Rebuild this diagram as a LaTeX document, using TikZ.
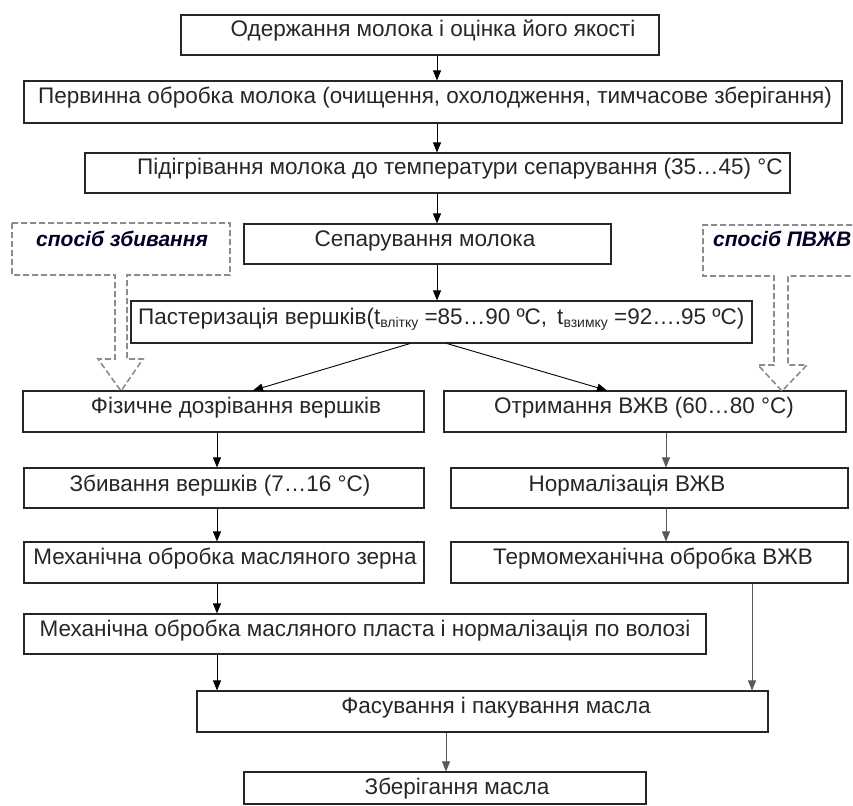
\documentclass[tikz,border=0pt]{standalone}
\usepackage{fontspec}
\setmainfont{Liberation Sans}
\usetikzlibrary{arrows.meta}
\begin{document}
\begin{tikzpicture}[x=1pt,y=-1pt,
  stepbox/.style={draw=black!85,line width=1.1pt,inner sep=0pt},
  txt/.style={inner sep=0pt,anchor=base,font=\fontsize{22.5}{25}\selectfont,text=black!85},
  way/.style={inner sep=0pt,anchor=base west,font=\fontsize{21}{23}\selectfont\bfseries\itshape,text=black!85!blue},
  flow/.style={draw=black,line width=0.9pt,-{Triangle[length=10pt,width=8pt]}},
  thinflow/.style={draw=black!65,line width=0.6pt,-{Triangle[length=10pt,width=8pt]}},
  hollow/.style={draw=black!45,line width=1.6pt,dash pattern=on 6pt off 3pt}
]
\useasboundingbox (0,0) rectangle (853,805);

% process steps: (left,top) to (right,bottom)
\newcommand{\stepat}[5]{\node[stepbox,minimum width=#3-#1,minimum height=#4-#2] (#5) at ({(#1+#3)/2},{(#2+#4)/2}) {};}
\newcommand{\lowsub}[1]{\raisebox{-3pt}{\fontsize{14}{14}\selectfont #1}}
\stepat{181}{15}{659}{55}{b1}
\stepat{24}{81}{842}{123}{b2}
\stepat{85}{153}{790}{193}{b3}
\stepat{244}{224}{611}{264}{b4}
\stepat{131}{301}{752}{343}{b5}
\stepat{23}{391}{424}{432}{b6}
\stepat{444}{391}{846}{432}{b7}
\stepat{24}{468}{424}{508}{b8}
\stepat{451}{468}{848}{508}{b9}
\stepat{24}{542}{424}{583}{b10}
\stepat{451}{542}{848}{583}{b11}
\stepat{24}{614}{706}{654}{b12}
\stepat{197}{691}{768}{732}{b13}
\stepat{244}{772}{646}{804}{b14}

% step texts (baselines)
\node[txt] (t1) at (433,37) {Одержання молока і оцінка його якості};
\node[txt] (t2) at (435,104) {Первинна обробка молока (очищення, охолодження, тимчасове зберігання)};
\node[txt] (t3) at (460,175) {Підігрівання молока до температури сепарування (35…45) °C};
\node[txt] (t4) at (425,246) {Сепарування молока};
\node[txt,anchor=base west] (t5) at (138,324) {Пастеризація вершків(t\lowsub{влітку} =85…90 ºC, \,t\lowsub{взимку} =92….95 ºC)};
\node[txt] (t6) at (236,413) {Фізичне дозрівання вершків};
\node[txt] (t7) at (644,413) {Отримання ВЖВ (60…80 °C)};
\node[txt] (t8) at (220,491) {Збивання вершків (7…16 °C)};
\node[txt] (t9) at (627,491) {Нормалізація ВЖВ};
\node[txt] (t10) at (225,564) {Механічна обробка масляного зерна};
\node[txt] (t11) at (653,564) {Термомеханічна обробка ВЖВ};
\node[txt] (t12) at (365,636) {Механічна обробка масляного пласта і нормалізація по волозі};
\node[txt] (t13) at (496,713) {Фасування і пакування масла};
\node[txt] (t14) at (457,794) {Зберігання масла};

% dashed method boxes with hollow arrows
\begin{scope}
\clip (0,0) rectangle (853,805);
\draw[hollow] (12,223) -- (230,223) -- (230,275) -- (127,275) -- (127,359) -- (143,359)
  -- (121,391) -- (98,359) -- (115,359) -- (115,275) -- (12,275) -- cycle;
\draw[hollow] (870,225) -- (703,225) -- (703,276) -- (774,276) -- (774,365) -- (758,365)
  -- (782,391) -- (807,365) -- (788,365) -- (788,276) -- (870,276);
\end{scope}
\node[way] (w1) at (36,246) {спосіб збивання};
\node[way] (w2) at (713,246) {спосіб ПВЖВ};

% connectors
\draw[flow] (b1.south -| 437,0) -- (b2.north -| 437,0);
\draw[flow] (b2.south -| 437,0) -- (b3.north -| 437,0);
\draw[flow] (b3.south -| 437,0) -- (b4.north -| 437,0);
\draw[flow] (b4.south -| 437,0) -- (b5.north -| 437,0);
\draw[flow] (b5.south -| 410,0) -- (b6.north -| 253,0);
\draw[flow] (b5.south -| 447,0) -- (b7.north -| 607,0);
\draw[flow] (b6.south -| 217,0) -- (b8.north -| 217,0);
\draw[flow] (b8.south -| 217,0) -- (b10.north -| 217,0);
\draw[flow] (b10.south -| 217,0) -- (b12.north -| 217,0);
\draw[flow] (b12.south -| 217,0) -- (b13.north -| 217,0);
\draw[thinflow] (b7.south -| 666,0) -- (b9.north -| 666,0);
\draw[thinflow] (b9.south -| 666,0) -- (b11.north -| 666,0);
\draw[thinflow] (b11.south -| 752,0) -- (b13.north -| 752,0);
\draw[thinflow] (b13.south -| 446,0) -- (b14.north -| 446,0);
\end{tikzpicture}
\end{document}
